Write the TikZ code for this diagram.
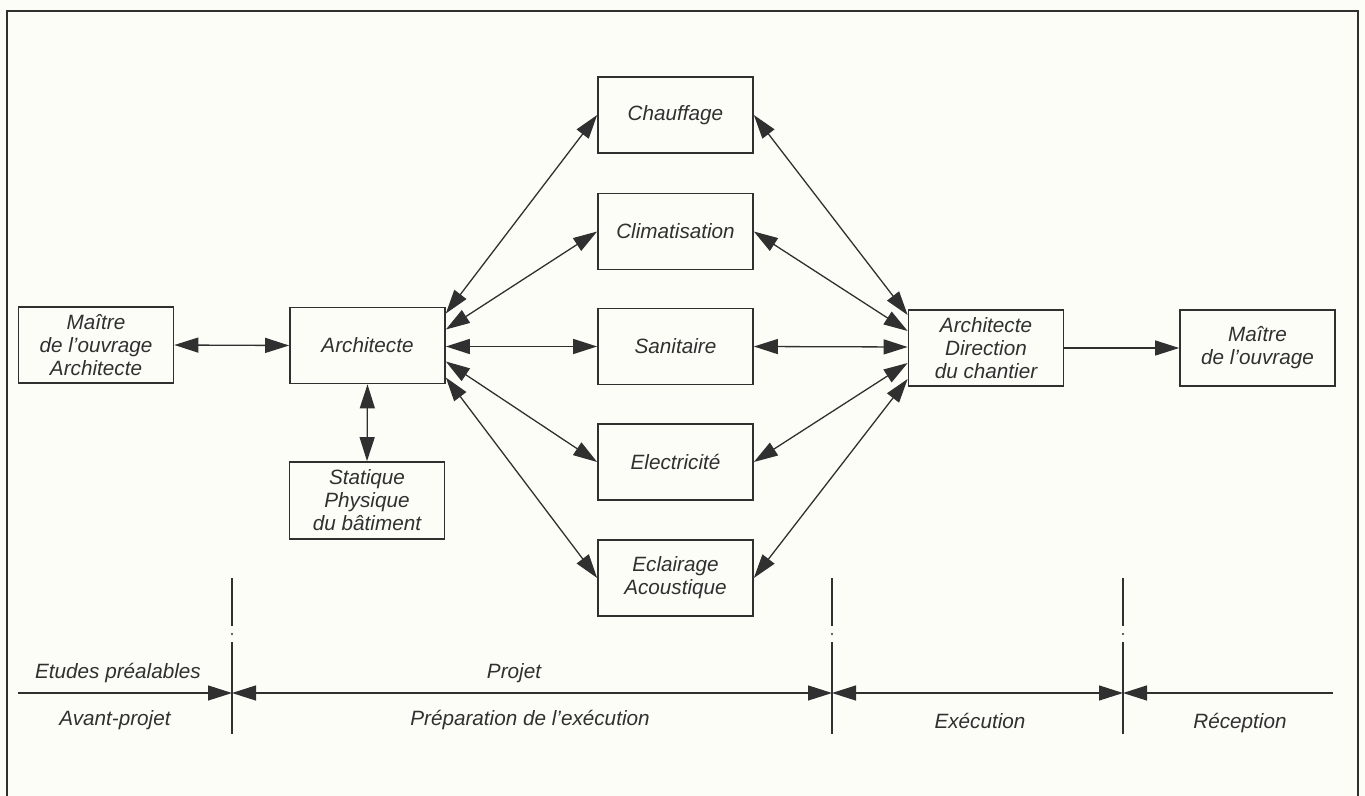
\documentclass[tikz,border=0pt]{standalone}
\usepackage{fontspec}
\setmainfont{Liberation Sans}
\usetikzlibrary{arrows.meta,calc}
\definecolor{ink}{HTML}{303030}
\definecolor{paper}{HTML}{FDFDF8}
\begin{document}
\begin{tikzpicture}[x=0.5pt,y=-0.5pt,
  txt/.style={font=\fontsize{10.35}{11.5}\selectfont\itshape, text=ink},
  box/.style={draw=ink, line width=0.85pt, minimum width=77.5pt, minimum height=38pt,
    inner sep=0pt, align=center, txt},
  lbl/.style={txt, anchor=base, inner sep=0pt},
  link/.style={draw=ink, line width=0.65pt},
  >={Triangle[length=12pt,width=7.5pt]},
  vline/.style={draw=ink, line width=0.6pt}]
\useasboundingbox[fill=paper] (0,0) rectangle (1365,796);
\draw[ink, line width=1pt] (7,800) -- (7,11) -- (1358,11) -- (1358,800);

% boxes
\node[box] (mL)   at (96,345)    {Maître\\de l'ouvrage\\Architecte};
\node[box] (arch) at (367.5,345.5) {Architecte};
\node[box, minimum height=38.5pt] (stat) at (367,500.5) {Statique\\Physique\\du bâtiment};
\node[box] (ch)   at (675.5,115)  {Chauffage};
\node[box] (cl)   at (675.5,231.5){Climatisation};
\node[box] (sa)   at (675.5,346.5){Sanitaire};
\node[box] (el)   at (675.5,462)  {Electricité};
\node[box] (ec)   at (675.5,578)  {Eclairage\\Acoustique};
\node[box] (dir)  at (986,348)    {Architecte\\Direction\\du chantier};
\node[box] (mR)   at (1257.5,348) {Maître\\de l'ouvrage};

% connectors
\draw[link,<->] (mL.east) -- (arch.west);
\draw[link,<->] (arch.south) -- (stat.north);
\draw[link,<->] ($(arch.east)+(0,-32)$) -- (ch.west);
\draw[link,<->] ($(arch.east)+(0,-16)$) -- (cl.west);
\draw[link,<->] ($(arch.east)+(0,1)$)   -- (sa.west);
\draw[link,<->] ($(arch.east)+(0,16)$)  -- (el.west);
\draw[link,<->] ($(arch.east)+(0,32)$)  -- (ec.west);
\draw[link,<->] (ch.east) -- ($(dir.west)+(0,-33)$);
\draw[link,<->] (cl.east) -- ($(dir.west)+(0,-17)$);
\draw[link,<->] (sa.east) -- ($(dir.west)+(0,-1)$);
\draw[link,<->] (el.east) -- ($(dir.west)+(0,15)$);
\draw[link,<->] (ec.east) -- ($(dir.west)+(0,31)$);
\draw[link,->] (dir.east) -- (mR.west);

% timeline
\coordinate (t0) at (18,693);
\coordinate (v1) at (232,693);
\coordinate (v2) at (832,693);
\coordinate (v3) at (1123,693);
\coordinate (t4) at (1333,693);
\draw[link,->] (t0) -- (v1);
\draw[link,<->] (v1) -- (v2);
\draw[link,<->] (v2) -- (v3);
\draw[link,<-] (v3) -- (t4);
\foreach \p in {v1,v2,v3}{
  \draw[vline] ($(\p)+(0,-115)$) -- ($(\p)+(0,-67)$);
  \fill[ink] ($(\p)+(0,-59)$) circle (0.6pt);
  \draw[vline] ($(\p)+(0,-51)$) -- ($(\p)+(0,41)$);
}

\node[lbl] (l1) at (118,678) {Etudes préalables};
\node[lbl] (l2) at (115,725) {Avant-projet};
\node[lbl] (l3) at (514,678) {Projet};
\node[lbl] (l4) at (530,725) {Préparation de l'exécution};
\node[lbl] (l5) at (980,728) {Exécution};
\node[lbl] (l6) at (1240,728) {Réception};
\end{tikzpicture}
\end{document}
